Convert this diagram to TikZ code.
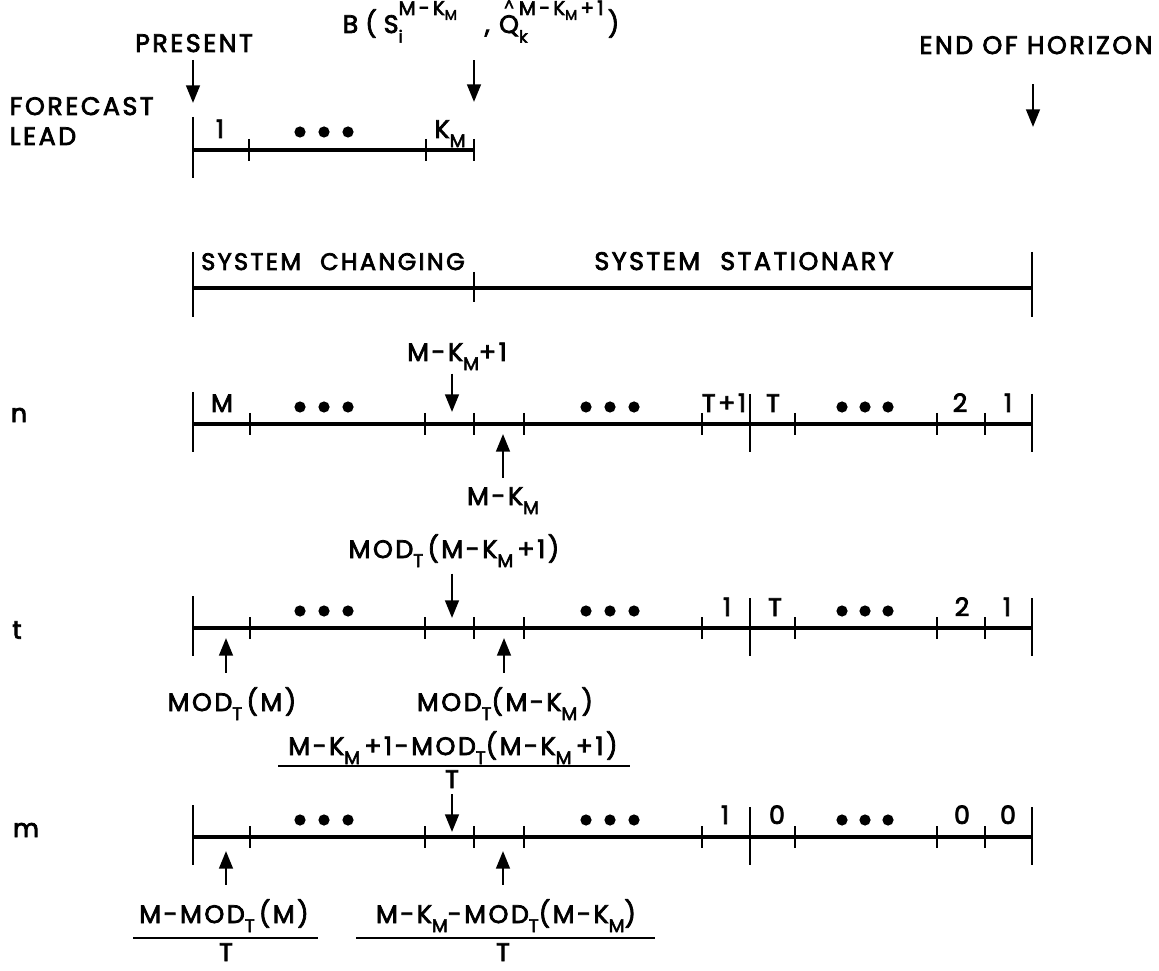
\documentclass[tikz,border=0pt]{standalone}
\usepackage{fontspec}
\setmainfont{Poppins}[LetterSpace=10, FakeBold=3]
\usetikzlibrary{arrows.meta}
\newcommand{\lowtxt}[1]{\raisebox{-0.65ex}{\fontsize{13}{15}\selectfont #1}}
\newcommand{\tinylow}[1]{\raisebox{-0.45ex}{\fontsize{10}{11}\selectfont #1}}
\newcommand{\supsub}[2]{\makebox[0pt][l]{\raisebox{-0.7ex}{\fontsize{12}{13}\selectfont #1}}\raisebox{1.3ex}{\fontsize{14}{15}\selectfont #2}}
\newcommand{\hatQ}{\shortstack{\fontsize{11}{6}\selectfont\textasciicircum\\Q}}
\tikzset{
  scale-line/.style={line width=2.2pt},
  end-mark/.style={line width=1.8pt},
  tick-mark/.style={line width=1.4pt},
  frac-bar/.style={line width=1.6pt},
  point-arrow/.style={-{Triangle[length=4.4mm,width=3.4mm]}, line width=1.8pt},
  lead-text/.style={font=\fontsize{18}{21}\selectfont, inner sep=1pt, anchor=base},
  row-text/.style={font=\fontsize{18}{21}\selectfont, inner sep=1pt}
}

\begin{document}
\begin{tikzpicture}[x=0.025cm, y=-0.025cm]
\useasboundingbox (0,0) rectangle (1159,971);

% Forecast lead scale
\draw[scale-line] (193,150) -- (474,150);
\draw[end-mark] (193,117) -- (193,178);
\foreach \x in {249,426,474} \draw[tick-mark] (\x,139) -- (\x,161);
\foreach \x in {300,324,348} \fill (\x,132) circle[radius=0.14cm];

% System line
\draw[scale-line] (193,288) -- (1032,288);
\draw[end-mark] (193,252) -- (193,317);
\draw[end-mark] (1032,252) -- (1032,317);
\draw[tick-mark] (474,272) -- (474,302);

% Rows n, t and m
\foreach \y in {424,628,837} {
  \draw[scale-line] (193,\y) -- (1032,\y);
  \draw[end-mark] (193,{\y-32}) -- (193,{\y+28});
  \draw[end-mark] (750,{\y-30}) -- (750,{\y+28});
  \draw[end-mark] (1032,{\y-30}) -- (1032,{\y+28});
  \foreach \x in {250,425,474,524,702,795,937,985}
    \draw[tick-mark] (\x,{\y-11}) -- (\x,{\y+11});
  \foreach \x in {300,324,348,586,610,634,842,865,888}
    \fill (\x,{\y-17}) circle[radius=0.14cm];
}

% Top labels
\node[lead-text] (present) at (194,52) {PRESENT};
\node[lead-text] (horizon) at (1036,54) {END OF HORIZON};
\node[lead-text] (bfunc) at (481,33) {B\;(\;S\supsub{i}{M\,-\,K\tinylow{M}}\ \ \ ,\ \hatQ\supsub{k}{M\,-\,K\tinylow{M}\,+\,1}\,)};
\node[lead-text, anchor=base west] (forecast) at (8,115) {FORECAST};
\node[lead-text, anchor=base west] (lead) at (8,145) {LEAD};
\node[lead-text] (lead-one) at (220,138) {1};
\node[lead-text] (lead-km) at (450,138) {K\lowtxt{M}};

\coordinate (present-tip) at (193,103);
\coordinate (bfunc-tip) at (474,102);
\coordinate (horizon-tip) at (1033,127);
\draw[point-arrow, shorten <=0.2cm] (present-tip |- present.base) -- (present-tip);
\draw[point-arrow, shorten <=0.4cm] (bfunc-tip |- bfunc.south) -- (bfunc-tip);
\draw[point-arrow, shorten <=0.75cm] (horizon-tip |- horizon.base) -- (horizon-tip);

% System states
\node[lead-text, font=\fontsize{17}{20}\selectfont] (changing) at (333,270) {SYSTEM\hspace{0.8em}CHANGING};
\node[lead-text] (stationary) at (744,270) {SYSTEM\hspace{0.8em}STATIONARY};

% Row names
\node[row-text] (row-n) at (19,415) {n};
\node[row-text] (row-t) at (17,630) {t};
\node[row-text] (row-m) at (26,830) {m};

% Row n
\node[lead-text] (n-m) at (222,412) {M};
\node[lead-text] (n-tp1) at (724,412) {T+1};
\node[lead-text] (n-t) at (773,412) {T};
\node[lead-text] (n-two) at (960,412) {2};
\node[lead-text] (n-one) at (1008,412) {1};
\node[lead-text] (n-next) at (457,361) {M-K\lowtxt{M}+1};
\node[lead-text] (n-last) at (503,505) {M-K\lowtxt{M}};
\coordinate (n-next-tip) at (452,412);
\coordinate (n-last-tip) at (503,434);
\draw[point-arrow, shorten <=0.05cm] (n-next-tip |- n-next.south) -- (n-next-tip);
\draw[point-arrow, shorten <=0.2cm] (n-last-tip |- n-last.north) -- (n-last-tip);

% Row t
\node[lead-text] (t-one) at (727,616) {1};
\node[lead-text] (t-t) at (775,616) {T};
\node[lead-text] (t-two) at (962,616) {2};
\node[lead-text] (t-first) at (1007,616) {1};
\node[lead-text] (t-next) at (454,558) {MOD\lowtxt{T}\,(M-K\lowtxt{M}\,+1)};
\node[lead-text] (t-mod) at (232,711) {MOD\lowtxt{T}\,(M)};
\node[lead-text] (t-last) at (505,711) {MOD\lowtxt{T}(M-K\lowtxt{M}\,)};
\coordinate (t-next-tip) at (452,618);
\coordinate (t-mod-tip) at (226,638);
\coordinate (t-last-tip) at (504,638);
\draw[point-arrow, shorten <=0.12cm] (t-next-tip |- t-next.south) -- (t-next-tip);
\draw[point-arrow, shorten <=0.32cm] (t-mod-tip |- t-mod.north) -- (t-mod-tip);
\draw[point-arrow, shorten <=0.32cm] (t-last-tip |- t-last.north) -- (t-last-tip);

% Row m
\node[lead-text] (m-one) at (725,824) {1};
\node[lead-text] (m-zero) at (777,824) {0};
\node[lead-text] (m-second) at (962,824) {0};
\node[lead-text] (m-first) at (1008,824) {0};

\node[lead-text] (m-next-num) at (453,755) {M-K\lowtxt{M}\,+1-MOD\lowtxt{T}(M-K\lowtxt{M}\,+1)};
\draw[frac-bar] (278,766) -- (630,766);
\node[lead-text] (m-next-den) at (452,788) {T};
\coordinate (m-next-tip) at (452,832);
\draw[point-arrow, shorten <=0.12cm] (m-next-tip |- m-next-den.south) -- (m-next-tip);

\node[lead-text] (m-mod-num) at (224,923) {M-MOD\lowtxt{T}\,(M)};
\draw[frac-bar] (133,938) -- (318,938);
\node[lead-text] (m-mod-den) at (226,961) {T};
\coordinate (m-mod-tip) at (226,851);
\draw[point-arrow, shorten <=0.32cm] (m-mod-tip |- m-mod-num.north) -- (m-mod-tip);

\node[lead-text] (m-last-num) at (506,923) {M-K\lowtxt{M}-MOD\lowtxt{T}(M-K\lowtxt{M})};
\draw[frac-bar] (356,938) -- (655,938);
\node[lead-text] (m-last-den) at (503,961) {T};
\coordinate (m-last-tip) at (503,851);
\draw[point-arrow, shorten <=0.32cm] (m-last-tip |- m-last-num.north) -- (m-last-tip);
\end{tikzpicture}
\end{document}
